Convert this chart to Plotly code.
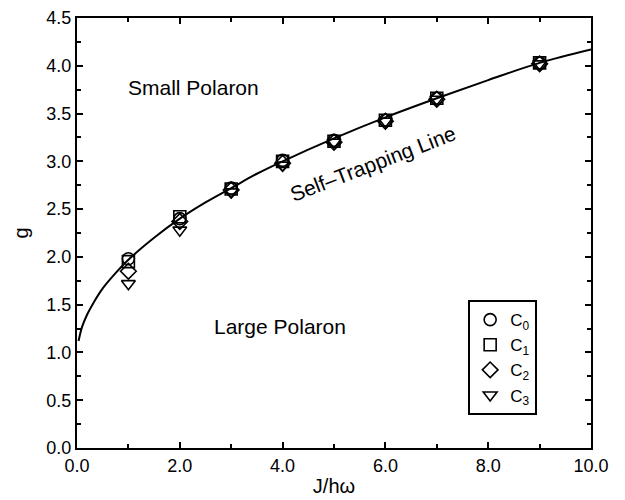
import plotly.graph_objects as go

# Self-trapping line
curve_x = [0.03, 0.06, 0.1, 0.2, 0.3, 0.5, 0.75, 1.0, 1.5, 2.0, 2.5, 3.0, 3.5, 4.0, 5.0, 6.0, 7.0, 8.0, 9.0, 10.0]
curve_g = [1.12, 1.19, 1.27, 1.40, 1.50, 1.67, 1.83, 1.97, 2.20, 2.40, 2.57, 2.72, 2.87, 3.00, 3.24, 3.46, 3.66, 3.85, 4.03, 4.17]

J = [1, 2, 3, 4, 5, 6, 7, 9]
C0 = [1.98, 2.40, 2.72, 3.01, 3.22, 3.43, 3.66, 4.03]
C1 = [1.95, 2.42, 2.71, 3.00, 3.21, 3.43, 3.66, 4.03]
C2 = [1.85, 2.37, 2.70, 2.98, 3.20, 3.42, 3.65, 4.02]
C3 = [1.72, 2.28, 2.68, 2.96, 3.20, 3.42, 3.65, 4.02]

series = [("C<sub>0</sub>", C0, "circle-open"),
          ("C<sub>1</sub>", C1, "square-open"),
          ("C<sub>2</sub>", C2, "diamond-open"),
          ("C<sub>3</sub>", C3, "triangle-down-open")]

FONT = "Liberation Sans, Arial, sans-serif"

fig = go.Figure()
fig.add_trace(go.Scatter(x=curve_x, y=curve_g, mode="lines", line=dict(color="black", width=2, shape="spline"),
                         showlegend=False, hoverinfo="skip"))
for name, vals, sym in series:
    fig.add_trace(go.Scatter(x=J, y=vals, mode="markers", name=name,
                             marker=dict(symbol=sym, size=12, color="black", line=dict(width=1.6, color="black"))))

axis_common = dict(showline=True, linecolor="black", linewidth=2, mirror="allticks",
                   ticks="inside", ticklen=6, tickwidth=1.5, tickcolor="black",
                   showgrid=False, zeroline=False, automargin=False,
                   tickfont=dict(family=FONT, size=18, color="black"))

fig.update_xaxes(range=[0, 10], dtick=2, tickformat=".1f",
                 minor=dict(dtick=1, ticks="inside", ticklen=4, tickcolor="black", tickwidth=1.5),
                 title=dict(text="J/hω", font=dict(family=FONT, size=20, color="black"), standoff=4),
                 **axis_common)
fig.update_yaxes(range=[0, 4.5], dtick=0.5, tickformat=".1f",
                 minor=dict(dtick=0.25, ticks="inside", ticklen=4, tickcolor="black", tickwidth=1.5),
                 title=dict(text="g", font=dict(family=FONT, size=20, color="black"), standoff=12),
                 **axis_common)

fig.add_annotation(x=2.26, y=3.77, text="Small Polaron", showarrow=False,
                   font=dict(family=FONT, size=21, color="black"))
fig.add_annotation(x=3.94, y=1.27, text="Large Polaron", showarrow=False,
                   font=dict(family=FONT, size=21, color="black"))
fig.add_annotation(x=5.76, y=2.98, text="Self–Trapping Line", showarrow=False, textangle=-21,
                   font=dict(family=FONT, size=21, color="black"))

fig.update_layout(
    width=617, height=492,
    margin=dict(l=69, r=34, t=10, b=52),
    paper_bgcolor="white", plot_bgcolor="white",
    legend=dict(x=0.761, y=0.344, xanchor="left", yanchor="top",
                bordercolor="black", borderwidth=2, bgcolor="white",
                font=dict(family=FONT, size=17, color="black"),
                itemwidth=30, tracegroupgap=0),
    font=dict(family=FONT, color="black"),
)

fig.write_html("out.html")
